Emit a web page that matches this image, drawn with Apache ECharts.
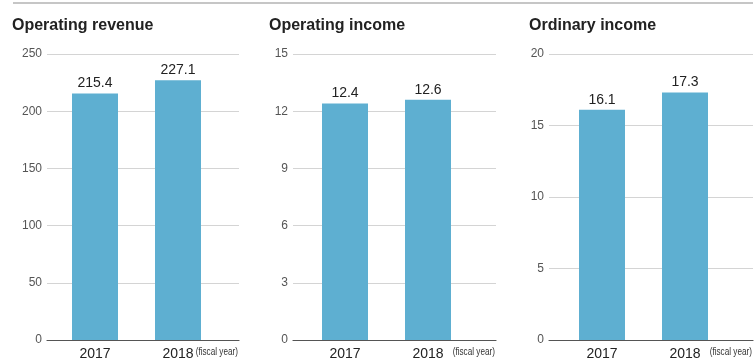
<!DOCTYPE html>
<html>
<head>
<meta charset="utf-8">
<script src="https://cdn.jsdelivr.net/npm/echarts@6/dist/echarts.min.js"></script>
<style>
html,body{margin:0;padding:0;background:#fff;}
#c{width:755px;height:358px;}
</style>
</head>
<body>
<div id="c"></div>
<script>
// ---- data ----
const categories = ['2017', '2018'];
const titles = ['Operating revenue', 'Operating income', 'Ordinary income'];
const revenue = [215.4, 227.1];
const operatingIncome = [12.4, 12.6];
const ordinaryIncome = [16.1, 17.3];
const yMax = [250, 15, 20];
const yInterval = [50, 3, 5];
const unitLabel = '(fiscal year)';

// ---- layout ----
const seriesData = [revenue, operatingIncome, ordinaryIncome];
const gridLeft = [47, 293, 549];
const gridRight = [239, 496, 753];
const barLeft = [53.5, 303.5, 560.5];
const barBandWidth = 166;
const titleLeft = [12, 269, 529];
const TOP = 54, H = 286;
const FONT = '"Liberation Sans", Arial, sans-serif';

const grid = [], xAxis = [], yAxis = [], series = [], title = [], graphic = [];
graphic.push({
  type: 'line', shape: {x1: 13, y1: 3, x2: 753, y2: 3},
  style: {stroke: '#c6c6c6', lineWidth: 2}
});
for (let i = 0; i < 3; i++) {
  title.push({
    text: titles[i], left: titleLeft[i], top: 18, padding: 0,
    textStyle: {fontFamily: FONT, fontSize: 16, fontWeight: 'bold', color: '#222'}
  });
  // background grid (gridlines, y labels, baseline)
  grid.push({left: gridLeft[i], top: TOP, width: gridRight[i] - gridLeft[i], height: H,
             containLabel: false, outerBoundsMode: 'none'});
  // bar grid
  grid.push({left: barLeft[i], top: TOP, width: barBandWidth, height: H,
             containLabel: false, outerBoundsMode: 'none'});
  xAxis.push({
    type: 'category', gridIndex: 2 * i, data: categories,
    axisLine: {show: true, lineStyle: {color: '#555', width: 1.2}},
    axisTick: {show: false}, axisLabel: {show: false}
  });
  xAxis.push({
    type: 'category', gridIndex: 2 * i + 1, data: categories,
    axisLine: {show: false}, axisTick: {show: false},
    axisLabel: {fontFamily: FONT, fontSize: 14, color: '#222', margin: 7}
  });
  yAxis.push({
    type: 'value', gridIndex: 2 * i, min: 0, max: yMax[i], interval: yInterval[i],
    axisLine: {show: false}, axisTick: {show: false},
    axisLabel: {fontFamily: FONT, fontSize: 12, color: '#555', margin: 5},
    splitLine: {lineStyle: {color: '#d4d4d4', width: 1}}
  });
  yAxis.push({
    type: 'value', gridIndex: 2 * i + 1, min: 0, max: yMax[i], interval: yInterval[i],
    show: false, splitLine: {show: false}
  });
  series.push({
    type: 'bar', xAxisIndex: 2 * i + 1, yAxisIndex: 2 * i + 1,
    data: seriesData[i], barWidth: 46,
    itemStyle: {color: '#5eafd1'},
    label: {show: true, position: 'top', distance: 3, fontFamily: FONT, fontSize: 14, color: '#222'}
  });
  // condensed "(fiscal year)" unit note, right-aligned at the end of the baseline
  graphic.push({
    type: 'text', x: gridRight[i] - 1, y: 352, scaleX: 0.78,
    style: {text: unitLabel, x: 0, y: 0, align: 'right', verticalAlign: 'middle',
            font: '10.5px "Liberation Sans", Arial, sans-serif', fill: '#333'}
  });
}

const chart = echarts.init(document.getElementById('c'), null, {renderer: 'canvas'});
chart.setOption({
  animation: false,
  backgroundColor: '#fff',
  title, grid, xAxis, yAxis, series, graphic
});
</script>
</body>
</html>
